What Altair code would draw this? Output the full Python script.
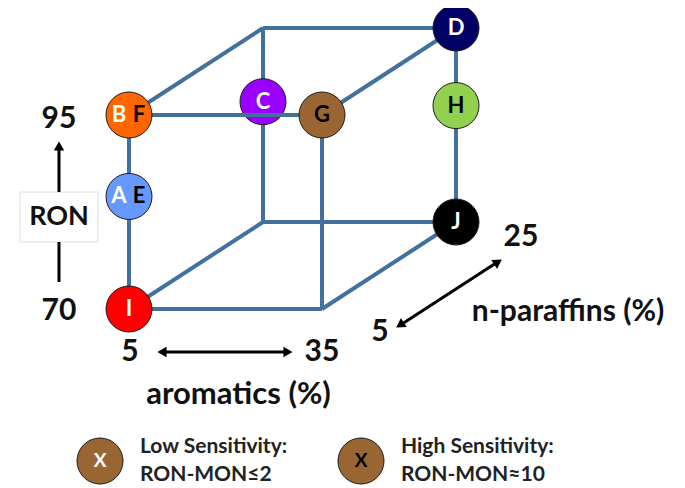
import altair as alt
import pandas as pd
import numpy as np

# ---------------- data ----------------
point_names = ["BF", "AE", "C", "G", "D", "H", "J", "I"]
aromatics = [5, 5, 5, 35, 35, 35, 35, 5]          # %
paraffins = [5, 5, 25, 5, 25, 25, 25, 5]          # %
ron_values = [95, 84.5, 85.5, 95, 95, 85, 70, 70]
fill_colors = ["#FF6600", "#6699FF", "#9900FF", "#996633",
               "#000066", "#92D050", "#000000", "#FF0000"]
low_sens_letters = ["B", "A", "C", "", "D", "", "J", "I"]    # white letters
high_sens_letters = ["F", "E", "", "G", "", "H", "", ""]    # black letters

aro_range = [5, 35]
par_range = [5, 25]
ron_range = [70, 95]

legend_letters = ["X", "X"]
legend_colors = ["#996633", "#996633"]
legend_text_colors = ["white", "black"]
legend_line1 = ["Low Sensitivity:", "High Sensitivity:"]
legend_line2 = ["RON-MON\u22642", "RON-MON\u224810"]

# ---------------- oblique projection of the cube ----------------
X0, Y0 = 129.0, 309.0
AX = 193.0 / 30.0
PX, PY = 134.0 / 20.0, 87.0 / 20.0
RY = 194.0 / 25.0


def proj(a, p, r):
    x = X0 + (a - aro_range[0]) * AX + (p - par_range[0]) * PX
    y = Y0 - (r - ron_range[0]) * RY - (p - par_range[0]) * PY
    return x, y


# corners and edges
corners = [(a, p, r) for a in aro_range for p in par_range for r in ron_range]
edges = []
for i, c1 in enumerate(corners):
    for c2 in corners[i + 1:]:
        if sum(u != v for u, v in zip(c1, c2)) == 1:
            x1, y1 = proj(*c1)
            x2, y2 = proj(*c2)
            front_top = (c1[1] == par_range[0] and c2[1] == par_range[0]
                         and c1[2] == ron_range[1] and c2[2] == ron_range[1])
            edges.append(dict(x=x1, y=y1, x2=x2, y2=y2, front_top=front_top))
edges = pd.DataFrame(edges)

pts = pd.DataFrame(dict(name=point_names, aro=aromatics, par=paraffins,
                        ron=ron_values, color=fill_colors,
                        wl=low_sens_letters, bl=high_sens_letters))
pts["x"], pts["y"] = zip(*[proj(a, p, r) for a, p, r in zip(pts.aro, pts.par, pts.ron)])
both = (pts.wl != "") & (pts.bl != "")
pts["xw"] = pts.x - np.where(both, 10, 0)
pts["xb"] = pts.x + np.where(both, 10, 0)

# scales: data units are page pixels (8 px page margin)
W, H = 669, 480
xs = alt.Scale(domain=[8, 8 + W], nice=False, zero=False)
ys = alt.Scale(domain=[8, 8 + H], nice=False, zero=False, reverse=True)
X = lambda f: alt.X(f, type="quantitative", scale=xs, axis=None)
Y = lambda f: alt.Y(f, type="quantitative", scale=ys, axis=None)

FONT = "Lato"
EDGE = "#41719C"
R = 2116

# ---------------- cube ----------------
back_edges = alt.Chart(edges[~edges.front_top]).mark_rule(
    color=EDGE, strokeWidth=4).encode(x=X("x"), y=Y("y"), x2="x2", y2="y2")
front_top_edge = alt.Chart(edges[edges.front_top]).mark_rule(
    color=EDGE, strokeWidth=4).encode(x=X("x"), y=Y("y"), x2="x2", y2="y2")

circ = lambda d: alt.Chart(d).mark_point(
    shape="circle", filled=True, size=R, opacity=1,
    stroke="#1a1a1a", strokeWidth=1).encode(
    x=X("x"), y=Y("y"), fill=alt.Fill("color:N", scale=None))

behind = pts[pts.name == "C"]
front = pts[pts.name != "C"]

white_txt = alt.Chart(pts[pts.wl != ""]).mark_text(
    font=FONT, fontWeight="bold", fontSize=22, color="white", baseline="middle").encode(
    x=X("xw"), y=Y("y"), text="wl:N")
black_txt = alt.Chart(pts[pts.bl != ""]).mark_text(
    font=FONT, fontWeight="bold", fontSize=22, color="black", baseline="middle").encode(
    x=X("xb"), y=Y("y"), text="bl:N")

# ---------------- axis annotations ----------------
ix, iy = proj(aro_range[0], par_range[0], ron_range[0])
rx, ry = proj(aro_range[1], par_range[0], ron_range[0])
_, ty = proj(aro_range[0], par_range[0], ron_range[1])
jx, jy = proj(aro_range[1], par_range[1], ron_range[0])
ron_x = ix - 70

labels = pd.DataFrame([
    dict(x=ron_x, y=ty + 4, t=str(ron_range[1]), s=30),
    dict(x=ron_x, y=iy + 2, t=str(ron_range[0]), s=30),
    dict(x=ron_x, y=(ty + iy) / 2 + 5, t="RON", s=27),
    dict(x=ix + 1, y=iy + 43, t=str(aro_range[0]), s=30),
    dict(x=rx, y=iy + 43, t=str(aro_range[1]), s=30),
    dict(x=(ix + rx) / 2 + 13, y=iy + 86, t="aromatics (%)", s=31),
    dict(x=jx + 65, y=jy + 15, t=str(par_range[1]), s=30),
    dict(x=rx + 58, y=iy + 23, t=str(par_range[0]), s=30),
    dict(x=rx + 246, y=iy + 3, t="n-paraffins (%)", s=30),
])
label_txt = alt.Chart(labels).mark_text(
    font=FONT, fontWeight="bold", color="#111111", baseline="middle").encode(
    x=X("x"), y=Y("y"), text="t:N", size=alt.Size("s:Q", scale=None))

ron_box = alt.Chart(pd.DataFrame([dict(x=ron_x - 39, x2=ron_x + 39,
                                       y=(ty + iy) / 2 - 20, y2=(ty + iy) / 2 + 30)])).mark_rect(
    fill="white", stroke="#dedede", strokeWidth=1).encode(
    x=X("x"), x2="x2", y=Y("y"), y2="y2")

# arrow shafts
shafts = pd.DataFrame([
    dict(x=ron_x, y=(ty + iy) / 2 - 20, x2=ron_x, y2=ty + 33),       # up arrow
    dict(x=ron_x, y=(ty + iy) / 2 + 30, x2=ron_x, y2=iy - 27),       # line below box
    dict(x=ix + 33, y=iy + 43, x2=rx - 34, y2=iy + 43),             # aromatics
    dict(x=rx + 80, y=iy + 15, x2=jx + 40, y2=jy + 41),             # paraffins
])
shaft = alt.Chart(shafts).mark_rule(color="black", strokeWidth=3).encode(
    x=X("x"), y=Y("y"), x2="x2", y2="y2")

ang = float(np.degrees(np.arctan2(jx + 44 - (rx + 76), (iy + 18) - (jy + 38))))
heads = pd.DataFrame([
    dict(x=ron_x, y=ty + 31, a=0),
    dict(x=ix + 33, y=iy + 43, a=270),
    dict(x=rx - 34, y=iy + 43, a=90),
    dict(x=jx + 42, y=jy + 40, a=ang),
    dict(x=rx + 78, y=iy + 16, a=ang + 180),
])
head = alt.Chart(heads).mark_point(shape="triangle-up", filled=True, size=110,
                                   color="black", opacity=1).encode(
    x=X("x"), y=Y("y"), angle=alt.Angle("a:Q", scale=None))

# ---------------- legend ----------------
leg = pd.DataFrame(dict(x=[100, 361], y=[461, 461], color=legend_colors,
                        letter=legend_letters, tc=legend_text_colors,
                        l1=legend_line1, l2=legend_line2))
leg["tx"] = leg.x + 40
leg_circ = alt.Chart(leg).mark_point(shape="circle", filled=True, size=R, opacity=1,
                                     stroke="#1a1a1a", strokeWidth=1).encode(
    x=X("x"), y=Y("y"), fill=alt.Fill("color:N", scale=None))
leg_letter = alt.Chart(leg).mark_text(font=FONT, fontWeight="bold", fontSize=19,
                                      baseline="middle").encode(
    x=X("x"), y=Y("y"), text="letter:N", color=alt.Color("tc:N", scale=None))
leg_l1 = alt.Chart(leg).mark_text(font=FONT, fontWeight="bold", fontSize=21, align="left",
                                  baseline="middle", color="#222222", dy=-14).encode(
    x=X("tx"), y=Y("y"), text="l1:N")
leg_l2 = alt.Chart(leg).mark_text(font=FONT, fontWeight="bold", fontSize=21, align="left",
                                  baseline="middle", color="#222222", dy=14).encode(
    x=X("tx"), y=Y("y"), text="l2:N")

chart = alt.layer(
    back_edges, circ(behind), front_top_edge, circ(front), white_txt, black_txt,
    ron_box, shaft, head, label_txt,
    leg_circ, leg_letter, leg_l1, leg_l2,
).properties(width=W, height=H, padding=0, autosize="none"
).configure_view(stroke=None)

chart.save("out.html", embed_options={"renderer": "svg", "actions": False})
